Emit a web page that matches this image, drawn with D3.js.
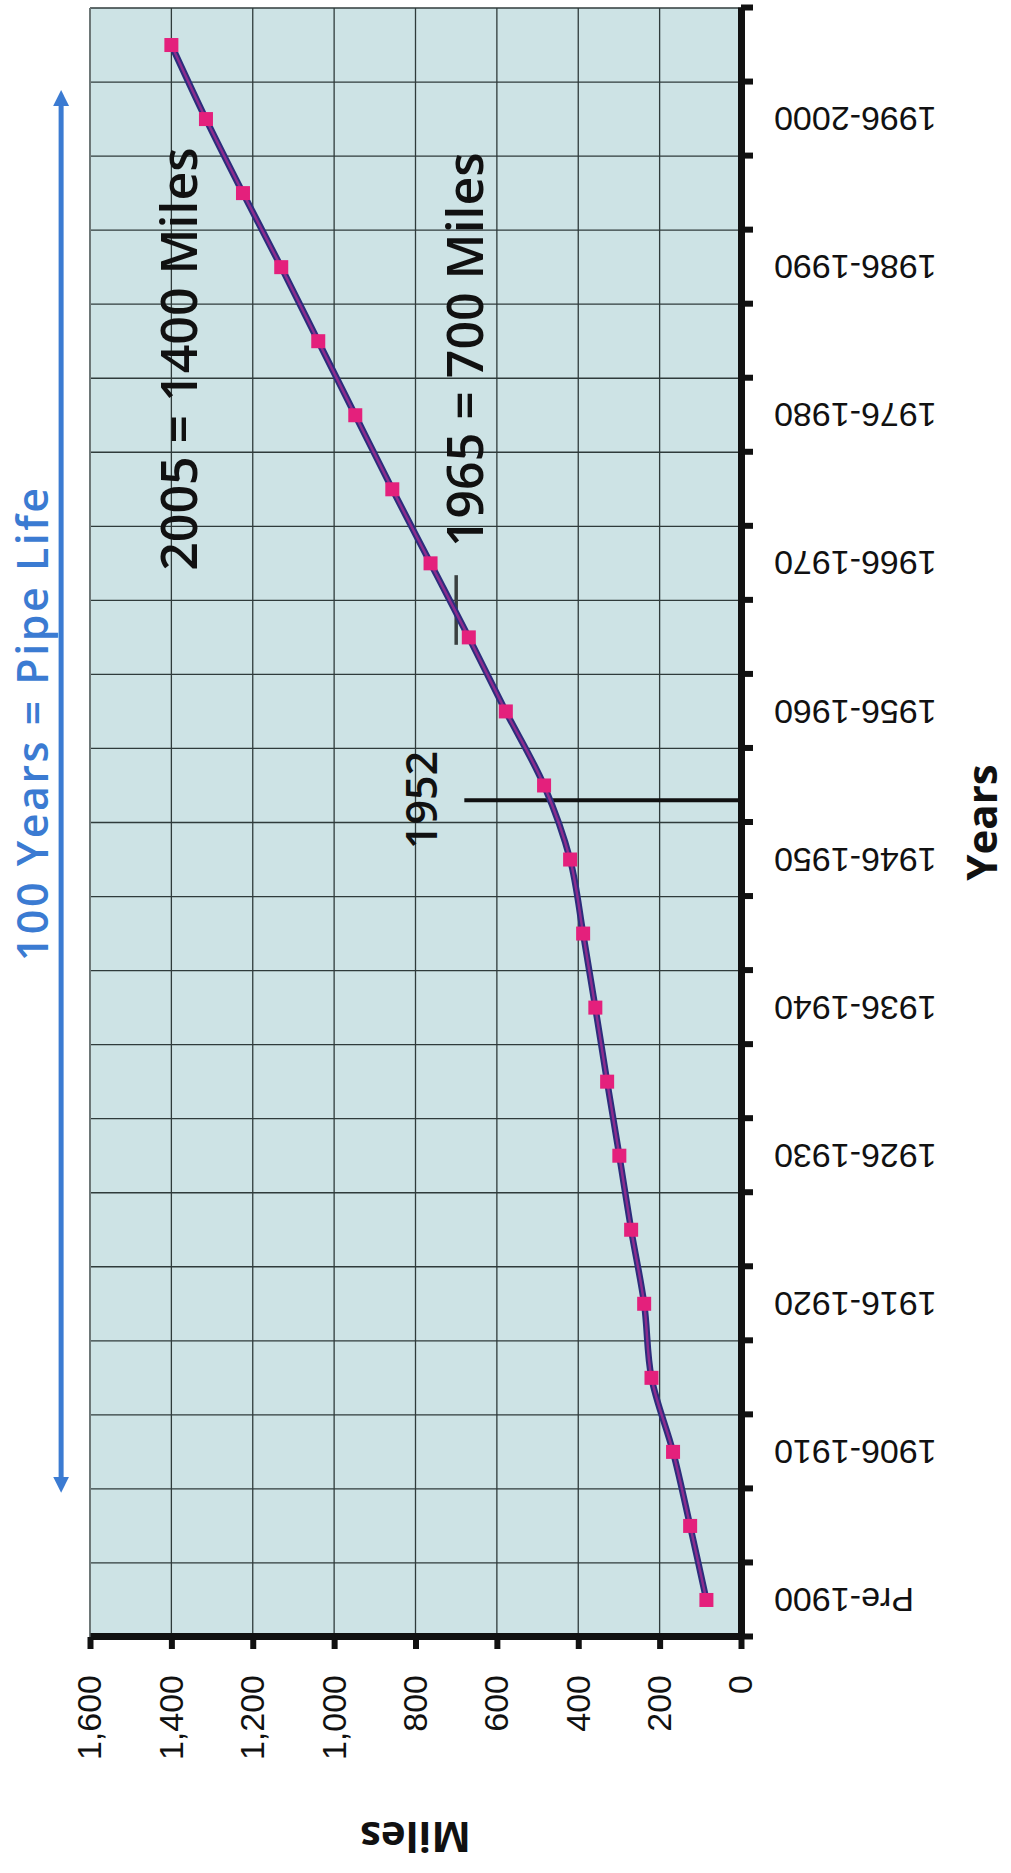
<!DOCTYPE html>
<html>
<head>
<meta charset="utf-8">
<script src="https://cdn.jsdelivr.net/npm/d3@7"></script>
<style>
  body { margin: 0; background: #fff; }
  svg { display: block; }
</style>
</head>
<body>
<svg id="chart" width="1011" height="1873"></svg>
<script>
// Five-year installation periods
const categories = [
  "Pre-1900", "1901-1905", "1906-1910", "1911-1915", "1916-1920", "1921-1925",
  "1926-1930", "1931-1935", "1936-1940", "1941-1945", "1946-1950", "1951-1955",
  "1956-1960", "1961-1965", "1966-1970", "1971-1975", "1976-1980", "1981-1985",
  "1986-1990", "1991-1995", "1996-2000", "2001-2005"
];
// Cumulative miles of pipe in service at the end of each period
const miles = [
  85, 125, 167, 220, 238, 270, 299, 329, 358, 388, 420, 484,
  578, 669, 763, 857, 948, 1039, 1130, 1224, 1315, 1400
];
// Axis tick labels
const mileTicks = [0, 200, 400, 600, 800, 1000, 1200, 1400, 1600];
const periodLabels = [
  "Pre-1900", "1906-1910", "1916-1920", "1926-1930", "1936-1940", "1946-1950",
  "1956-1960", "1966-1970", "1976-1980", "1986-1990", "1996-2000"
];

const svg = d3.select("#chart");

// The chart is laid out in its own landscape frame (periods across, miles up)
// and then turned a quarter turn counter-clockwise onto the portrait page.
const W = 1629, H = 651;
const g = svg.append("g").attr("transform", "translate(90,1637) rotate(-90)");

const x = d3.scaleBand().domain(categories).range([0, W]).padding(0);
const step = x.step();
const y = d3.scaleLinear().domain([0, 1600]).range([H, 0]);
const edges = d3.scaleLinear().domain([0, categories.length]).range([0, W]);
// Position of a calendar year: each band's centre holds its middle year
const yearPos = yr => x("1901-1905") + step / 2 + (yr - 1903) / 5 * step;

const textFont = "'Open Sans', 'DejaVu Sans', sans-serif";
const tickFont = "'Liberation Sans', Arial, sans-serif";

// Plot background
g.append("rect")
  .attr("x", 0).attr("y", 0).attr("width", W).attr("height", H)
  .attr("fill", "#cde3e5");

// Grid
g.append("g").selectAll("line")
  .data(d3.range(1, categories.length + 1))
  .join("line")
  .attr("x1", d => edges(d)).attr("x2", d => edges(d))
  .attr("y1", 0).attr("y2", H)
  .attr("stroke", "#2f3b3b").attr("stroke-width", 1.3);

g.append("g").selectAll("line")
  .data(mileTicks.slice(1))
  .join("line")
  .attr("x1", 0).attr("x2", W)
  .attr("y1", d => y(d)).attr("y2", d => y(d))
  .attr("stroke", d => d === 1600 ? "#6d7777" : "#2f3b3b")
  .attr("stroke-width", d => d === 1600 ? 2 : 1.3);

// Period axis (ticks between bands)
g.append("g")
  .attr("transform", `translate(0,${H})`)
  .call(d3.axisBottom(edges)
    .tickValues(d3.range(0, categories.length + 1))
    .tickFormat("")
    .tickSizeInner(12).tickSizeOuter(0))
  .call(a => a.select(".domain").attr("stroke", "#111").attr("stroke-width", 7))
  .call(a => a.selectAll(".tick line").attr("stroke", "#111").attr("stroke-width", 6));

g.append("g").selectAll("text")
  .data(periodLabels)
  .join("text")
  .attr("transform", d => `translate(${x(d) + step / 2},${H + 33}) rotate(-90)`)
  .attr("text-anchor", "end")
  .attr("dy", "0.35em")
  .attr("font-family", tickFont)
  .attr("font-size", 34)
  .attr("fill", "#111")
  .text(d => d);

// Miles axis
g.append("g")
  .call(d3.axisLeft(y)
    .tickValues(mileTicks)
    .tickFormat(d3.format(","))
    .tickSizeInner(12).tickSizeOuter(0).tickPadding(26))
  .call(a => a.select(".domain").attr("stroke", "#111").attr("stroke-width", 7))
  .call(a => a.selectAll(".tick line").attr("stroke", "#111").attr("stroke-width", 6))
  .call(a => a.selectAll(".tick text")
    .attr("font-family", tickFont).attr("font-size", 34).attr("fill", "#111"));

// Axis titles
g.append("text")
  .attr("transform", `translate(-185,${H / 2}) rotate(-90)`)
  .attr("text-anchor", "middle")
  .attr("font-family", textFont).attr("font-weight", 700).attr("font-size", 42)
  .attr("fill", "#111")
  .text("Miles");

g.append("text")
  .attr("x", W / 2).attr("y", H + 256)
  .attr("text-anchor", "middle")
  .attr("font-family", textFont).attr("font-weight", 700).attr("font-size", 42)
  .attr("fill", "#111")
  .text("Years");

// Reference marks: 1952 and the 700-mile level around 1965
g.append("line")
  .attr("x1", yearPos(1952)).attr("x2", yearPos(1952))
  .attr("y1", y(0)).attr("y2", y(680))
  .attr("stroke", "#111").attr("stroke-width", 4);

g.append("line")
  .attr("x1", yearPos(1962.5)).attr("x2", yearPos(1967.2))
  .attr("y1", y(700)).attr("y2", y(700))
  .attr("stroke", "#3a4040").attr("stroke-width", 3.5);

// Series
const line = d3.line()
  .x((d, i) => x(categories[i]) + step / 2)
  .y(d => y(d))
  .curve(d3.curveCatmullRom);

g.append("path").datum(miles)
  .attr("d", line).attr("fill", "none")
  .attr("stroke", "#2c2d7c").attr("stroke-width", 6.5);
g.append("path").datum(miles)
  .attr("d", line).attr("fill", "none")
  .attr("stroke", "#8c2c8e").attr("stroke-width", 2.5);

g.append("g").selectAll("rect")
  .data(miles)
  .join("rect")
  .attr("x", (d, i) => x(categories[i]) + step / 2 - 7)
  .attr("y", d => y(d) - 7)
  .attr("width", 14).attr("height", 14)
  .attr("fill", "#e4207c");

// Annotations
const note = (txt, u, v, size) => g.append("text")
  .attr("x", u).attr("y", v)
  .attr("font-family", textFont).attr("font-weight", 600).attr("font-size", size)
  .attr("fill", "#111")
  .text(txt);

note("2005 = 1400 Miles", yearPos(1967.5), y(1337), 50);
note("1965 = 700 Miles", yearPos(1969.1), y(634), 50);
note("1952", yearPos(1948.7), y(747), 43);

// 100-year pipe life arrow
const blue = "#3b7bd2";
const defs = svg.append("defs");
defs.append("marker")
  .attr("id", "head")
  .attr("viewBox", "0 0 10 10")
  .attr("refX", 3).attr("refY", 5)
  .attr("markerUnits", "userSpaceOnUse")
  .attr("markerWidth", 16).attr("markerHeight", 17)
  .attr("orient", "auto-start-reverse")
  .append("path")
  .attr("d", "M0,0 L10,5 L0,10 Z")
  .attr("fill", blue);

g.append("line")
  .attr("x1", yearPos(1906)).attr("x2", yearPos(1999.2))
  .attr("y1", y(1671)).attr("y2", y(1671))
  .attr("stroke", blue).attr("stroke-width", 5)
  .attr("marker-start", "url(#head)")
  .attr("marker-end", "url(#head)");

g.append("text")
  .attr("x", yearPos(1957.2)).attr("y", y(1703))
  .attr("text-anchor", "middle")
  .attr("font-family", textFont).attr("font-weight", 600).attr("font-size", 43)
  .attr("letter-spacing", 2.5)
  .attr("fill", blue)
  .text("100 Years = Pipe Life");
</script>
</body>
</html>
